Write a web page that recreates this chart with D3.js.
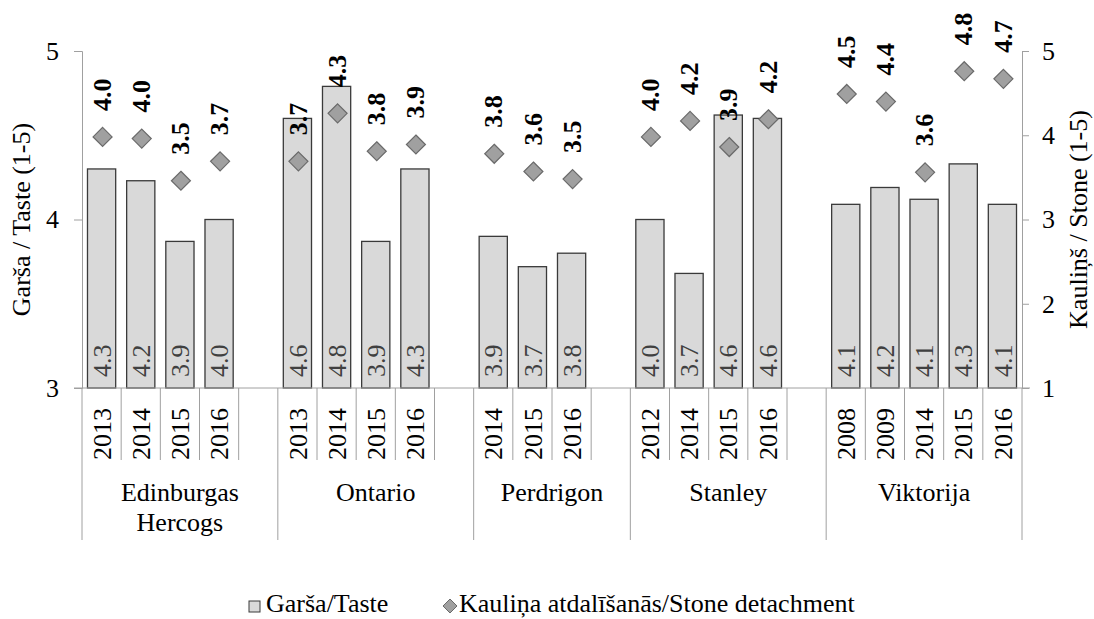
<!DOCTYPE html>
<html>
<head>
<meta charset="utf-8">
<script src="https://cdn.jsdelivr.net/npm/d3@7"></script>
<style>
  html, body { margin: 0; padding: 0; background: #fff; }
  svg { display: block; }
  text { font-family: "Liberation Serif", "Times New Roman", Tinos, serif; }
</style>
</head>
<body>
<svg id="chart" width="1094" height="619"></svg>
<script>
// ---- data ----
const groups = ["Edinburgas Hercogs", "Ontario", "Perdrigon", "Stanley", "Viktorija"];
const groupLines = [["Edinburgas", "Hercogs"], ["Ontario"], ["Perdrigon"], ["Stanley"], ["Viktorija"]];
const years = [
  ["2013", "2014", "2015", "2016"],
  ["2013", "2014", "2015", "2016"],
  ["2014", "2015", "2016"],
  ["2012", "2014", "2015", "2016"],
  ["2008", "2009", "2014", "2015", "2016"]
];
const taste = [
  [4.30, 4.23, 3.87, 4.00],
  [4.60, 4.79, 3.87, 4.30],
  [3.90, 3.72, 3.80],
  [4.00, 3.68, 4.62, 4.60],
  [4.09, 4.19, 4.12, 4.33, 4.09]
];
const stone = [
  [3.98, 3.96, 3.46, 3.69],
  [3.69, 4.26, 3.81, 3.89],
  [3.78, 3.57, 3.48],
  [3.98, 4.17, 3.86, 4.19],
  [4.49, 4.40, 3.56, 4.76, 4.67]
];
const leftTicks = [3, 4, 5];
const rightTicks = [1, 2, 3, 4, 5];
const leftTitle = "Garša / Taste (1-5)";
const rightTitle = "Kauliņš / Stone (1-5)";
const legendLabels = ["Garša/Taste", "Kauliņa atdalīšanās/Stone detachment"];

// ---- build slot list (categories + gap slots between groups) ----
const slots = [];
const points = [];
groups.forEach((g, gi) => {
  years[gi].forEach((y, yi) => {
    const key = g + "|" + y;
    slots.push(key);
    points.push({ key, group: g, year: y, taste: taste[gi][yi], stone: stone[gi][yi] });
  });
  if (gi < groups.length - 1) slots.push(g + "|gap");
});

// ---- layout ----
const svg = d3.select("#chart");
const L = 82, R = 1022, T = 51, B = 388;
const FONT = 26;
const FF = "Liberation Serif, Times New Roman, Tinos, serif";

const x = d3.scaleBand().domain(slots).range([L, R]).paddingInner(0.28).paddingOuter(0.14);
const yL = d3.scaleLinear().domain([3, 5]).range([B, T]);
const yR = d3.scaleLinear().domain([1, 5]).range([B, T]);
const step = x.step();
const slotStart = k => x(k) - (step - x.bandwidth()) / 2;

const axisColor = "#a0a0a0";

// bars
svg.append("g").selectAll("rect").data(points).join("rect")
  .attr("x", d => x(d.key))
  .attr("y", d => yL(d.taste))
  .attr("width", x.bandwidth())
  .attr("height", d => B - yL(d.taste))
  .attr("fill", "#d9d9d9")
  .attr("stroke", "#3a3a3a")
  .attr("stroke-width", 1.3);

// bar labels (rotated, at bottom inside bar)
svg.append("g").selectAll("text").data(points).join("text")
  .attr("transform", d => `translate(${x(d.key) + x.bandwidth() / 2},${B - 11}) rotate(-90)`)
  .attr("dy", "0.35em")
  .attr("text-anchor", "start")
  .attr("font-size", FONT)
  .attr("fill", "#404040")
  .text(d => d.taste.toFixed(1));

// left axis
const gL = svg.append("g").attr("transform", `translate(${L},0)`)
  .call(d3.axisLeft(yL).tickValues(leftTicks).tickSize(8).tickPadding(15).tickFormat(d3.format("d")));
gL.attr("font-family", FF);
gL.selectAll("path, line").attr("stroke", axisColor);
gL.selectAll("text").attr("font-size", FONT).attr("font-family", FF).attr("fill", "#000");

// right axis
const gR = svg.append("g").attr("transform", `translate(${R},0)`)
  .call(d3.axisRight(yR).tickValues(rightTicks).tickSize(7).tickPadding(13).tickFormat(d3.format("d")));
gR.attr("font-family", FF);
gR.selectAll("path, line").attr("stroke", axisColor);
gR.selectAll("text").attr("font-size", FONT).attr("font-family", FF).attr("fill", "#000");

// horizontal category axis line
svg.append("line").attr("x1", L - 8).attr("x2", R + 8).attr("y1", B).attr("y2", B)
  .attr("stroke", axisColor);

// category divider lines
const groupStartIdx = new Set();
groups.forEach(g => groupStartIdx.add(slots.findIndex(s => s.startsWith(g + "|"))));
const boundaries = d3.range(slots.length + 1).map(i => ({
  x: i < slots.length ? slotStart(slots[i]) : R,
  long: i === slots.length || groupStartIdx.has(i)
}));
svg.append("g").selectAll("line").data(boundaries).join("line")
  .attr("x1", d => d.x).attr("x2", d => d.x)
  .attr("y1", B).attr("y2", d => d.long ? 540 : 460)
  .attr("stroke", axisColor);

// year labels
svg.append("g").selectAll("text").data(points).join("text")
  .attr("transform", d => `translate(${x(d.key) + x.bandwidth() / 2},460) rotate(-90)`)
  .attr("dy", "0.35em")
  .attr("text-anchor", "start")
  .attr("font-size", FONT)
  .attr("fill", "#000")
  .text(d => d.year);

// group labels
groups.forEach((g, gi) => {
  const first = slots.findIndex(s => s.startsWith(g + "|"));
  const nextStart = gi < groups.length - 1 ? slotStart(slots[slots.findIndex(s => s.startsWith(groups[gi + 1] + "|"))]) : R;
  const cx = (slotStart(slots[first]) + nextStart) / 2;
  const t = svg.append("text").attr("x", cx).attr("y", 501).attr("text-anchor", "middle")
    .attr("font-size", FONT).attr("fill", "#000");
  groupLines[gi].forEach((ln, li) => {
    t.append("tspan").attr("x", cx).attr("dy", li === 0 ? 0 : 30).text(ln);
  });
});

// diamonds
const dsz = 9.5;
const diamondPath = `M0,${-dsz}L${dsz},0L0,${dsz}L${-dsz},0Z`;
svg.append("g").selectAll("path").data(points).join("path")
  .attr("transform", d => `translate(${x(d.key) + x.bandwidth() / 2 + 1},${yR(d.stone)})`)
  .attr("d", diamondPath)
  .attr("fill", "#a0a0a0")
  .attr("stroke", "#6a6a6a")
  .attr("stroke-width", 1.2);

// diamond labels
svg.append("g").selectAll("text").data(points).join("text")
  .attr("transform", d => `translate(${x(d.key) + x.bandwidth() / 2},${yR(d.stone) - 26}) rotate(-90)`)
  .attr("dy", "0.35em")
  .attr("text-anchor", "start")
  .attr("font-size", FONT)
  .attr("font-weight", "bold")
  .attr("fill", "#000")
  .text(d => d.stone.toFixed(1));

// axis titles
svg.append("text").attr("transform", `translate(30,${(T + B) / 2}) rotate(-90)`)
  .attr("text-anchor", "middle").attr("font-size", FONT).attr("fill", "#000").text(leftTitle);
svg.append("text").attr("transform", `translate(1087,${(T + B) / 2}) rotate(-90)`)
  .attr("text-anchor", "middle").attr("font-size", FONT).attr("fill", "#000").text(rightTitle);

// legend
const leg = svg.append("g");
leg.append("rect").attr("x", 249).attr("y", 601).attr("width", 11).attr("height", 11)
  .attr("fill", "#d9d9d9").attr("stroke", "#3a3a3a").attr("stroke-width", 1);
leg.append("text").attr("x", 266).attr("y", 612).attr("font-size", FONT).attr("fill", "#000").text(legendLabels[0]);
leg.append("path").attr("transform", "translate(450,606)")
  .attr("d", "M0,-7L7,0L0,7L-7,0Z").attr("fill", "#a0a0a0").attr("stroke", "#6a6a6a");
leg.append("text").attr("x", 459).attr("y", 612).attr("font-size", FONT).attr("fill", "#000").text(legendLabels[1]);
</script>
</body>
</html>
